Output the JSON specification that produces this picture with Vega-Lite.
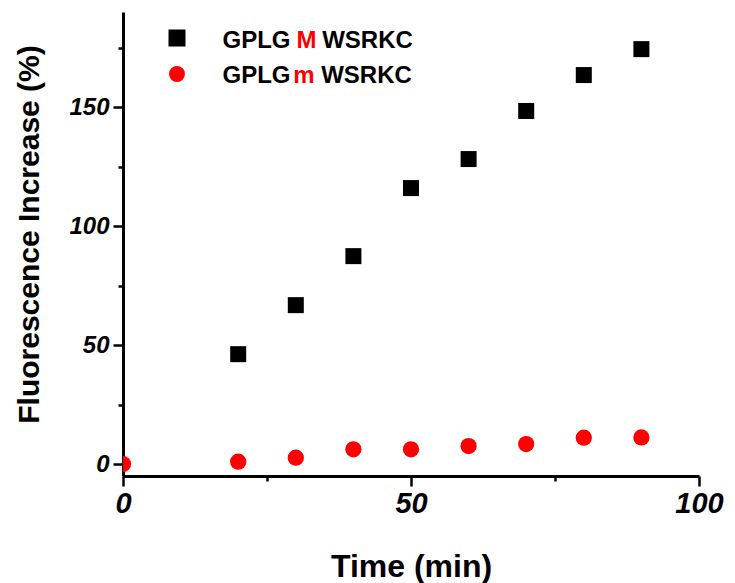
{
  "$schema": "https://vega.github.io/schema/vega-lite/v6.json",
  "width": 576,
  "height": 464,
  "autosize": {"type": "none"},
  "padding": {"left": 123, "top": 12, "right": 36, "bottom": 107},
  "config": {"view": {"stroke": null}, "font": "Liberation Sans"},
  "datasets": {
    "points": [
      {"time": 20, "value": 46.2, "peptide": "GPLGMWSRKC"},
      {"time": 30, "value": 66.8, "peptide": "GPLGMWSRKC"},
      {"time": 40, "value": 87.4, "peptide": "GPLGMWSRKC"},
      {"time": 50, "value": 116.0, "peptide": "GPLGMWSRKC"},
      {"time": 60, "value": 128.2, "peptide": "GPLGMWSRKC"},
      {"time": 70, "value": 148.4, "peptide": "GPLGMWSRKC"},
      {"time": 80, "value": 163.5, "peptide": "GPLGMWSRKC"},
      {"time": 90, "value": 174.4, "peptide": "GPLGMWSRKC"},
      {"time": 0, "value": 0.0, "peptide": "GPLGmWSRKC"},
      {"time": 20, "value": 1.0, "peptide": "GPLGmWSRKC"},
      {"time": 30, "value": 2.7, "peptide": "GPLGmWSRKC"},
      {"time": 40, "value": 6.2, "peptide": "GPLGmWSRKC"},
      {"time": 50, "value": 6.2, "peptide": "GPLGmWSRKC"},
      {"time": 60, "value": 7.6, "peptide": "GPLGmWSRKC"},
      {"time": 70, "value": 8.4, "peptide": "GPLGmWSRKC"},
      {"time": 80, "value": 11.1, "peptide": "GPLGmWSRKC"},
      {"time": 90, "value": 11.2, "peptide": "GPLGmWSRKC"}
    ]
  },
  "layer": [
    {
      "data": {"name": "points"},
      "mark": {"type": "point", "filled": true, "opacity": 1, "clip": true},
      "encoding": {
        "x": {
          "field": "time", "type": "quantitative",
          "scale": {"domain": [0, 100], "nice": false, "zero": false},
          "axis": {
            "values": [0, 25, 50, 75, 100],
            "labelExpr": "datum.value % 50 === 0 ? datum.label : ''",
            "tickSize": {"condition": {"test": "datum.value % 50 === 0", "value": 10}, "value": 5},
            "tickWidth": 2.5, "tickColor": "#000000",
            "domainColor": "#000000", "domainWidth": 3,
            "grid": false,
            "labelFont": "Liberation Sans", "labelFontSize": 29, "labelFontStyle": "italic", "labelFontWeight": "bold",
            "labelColor": "#000000", "labelPadding": 3, "labelFlush": false, "labelOverlap": false,
            "title": "Time (min)",
            "titleFont": "Liberation Sans", "titleFontSize": 32, "titleFontWeight": "bold", "titleColor": "#000000",
            "titleBaseline": "alphabetic", "titleY": 100
          }
        },
        "y": {
          "field": "value", "type": "quantitative",
          "scale": {"domain": [-5, 190], "nice": false, "zero": false},
          "axis": {
            "values": [0, 25, 50, 75, 100, 125, 150, 175],
            "labelExpr": "datum.value % 50 === 0 ? datum.label : ''",
            "tickSize": {"condition": {"test": "datum.value % 50 === 0", "value": 10}, "value": 5},
            "tickWidth": 2.5, "tickColor": "#000000",
            "domainColor": "#000000", "domainWidth": 3,
            "grid": false,
            "labelFont": "Liberation Sans", "labelFontSize": 24, "labelFontStyle": "italic", "labelFontWeight": "bold",
            "labelColor": "#000000", "labelPadding": 4, "labelFlush": false, "labelOverlap": false,
            "title": "Fluorescence Increase (%)",
            "titleFont": "Liberation Sans", "titleFontSize": 30, "titleFontWeight": "bold", "titleColor": "#000000",
            "titleBaseline": "alphabetic", "titleX": -85, "titleY": 222
          }
        },
        "shape": {
          "field": "peptide", "type": "nominal",
          "scale": {"domain": ["GPLGMWSRKC", "GPLGmWSRKC"], "range": ["square", "circle"]},
          "legend": null
        },
        "color": {
          "field": "peptide", "type": "nominal",
          "scale": {"domain": ["GPLGMWSRKC", "GPLGmWSRKC"], "range": ["#000000", "#ff0000"]},
          "legend": null
        },
        "size": {
          "field": "peptide", "type": "nominal",
          "scale": {"domain": ["GPLGMWSRKC", "GPLGmWSRKC"], "range": [256, 265]},
          "legend": null
        }
      }
    },
    {
      "data": {"values": [{"peptide": "GPLGMWSRKC"}]},
      "mark": {"type": "point", "filled": true, "opacity": 1, "shape": "square", "size": 289, "color": "#000000"},
      "encoding": {
        "x": {"datum": 9.375, "type": "quantitative"},
        "y": {"datum": 179.07, "type": "quantitative"}
      }
    },
    {
      "data": {"values": [{"peptide": "GPLGmWSRKC"}]},
      "mark": {"type": "point", "filled": true, "opacity": 1, "shape": "circle", "size": 254, "color": "#ff0000"},
      "encoding": {
        "x": {"datum": 9.375, "type": "quantitative"},
        "y": {"datum": 163.94, "type": "quantitative"}
      }
    },
    {
      "data": {"values": [{"part": "GPLG"}]},
      "mark": {"type": "text", "font": "Liberation Sans", "fontSize": 24, "fontWeight": "bold", "align": "center", "baseline": "alphabetic", "color": "#000000"},
      "encoding": {
        "x": {"datum": 23.18, "type": "quantitative"},
        "y": {"datum": 174.74, "type": "quantitative"},
        "text": {"field": "part"}
      }
    },
    {
      "data": {"values": [{"part": "M"}]},
      "mark": {"type": "text", "font": "Liberation Sans", "fontSize": 24, "fontWeight": "bold", "align": "center", "baseline": "alphabetic", "color": "#ff0000"},
      "encoding": {
        "x": {"datum": 31.86, "type": "quantitative"},
        "y": {"datum": 174.74, "type": "quantitative"},
        "text": {"field": "part"}
      }
    },
    {
      "data": {"values": [{"part": "WSRKC"}]},
      "mark": {"type": "text", "font": "Liberation Sans", "fontSize": 24, "fontWeight": "bold", "align": "center", "baseline": "alphabetic", "color": "#000000"},
      "encoding": {
        "x": {"datum": 42.45, "type": "quantitative"},
        "y": {"datum": 174.74, "type": "quantitative"},
        "text": {"field": "part"}
      }
    },
    {
      "data": {"values": [{"part": "GPLG"}]},
      "mark": {"type": "text", "font": "Liberation Sans", "fontSize": 24, "fontWeight": "bold", "align": "center", "baseline": "alphabetic", "color": "#000000"},
      "encoding": {
        "x": {"datum": 23.18, "type": "quantitative"},
        "y": {"datum": 160.03, "type": "quantitative"},
        "text": {"field": "part"}
      }
    },
    {
      "data": {"values": [{"part": "m"}]},
      "mark": {"type": "text", "font": "Liberation Sans", "fontSize": 24, "fontWeight": "bold", "align": "center", "baseline": "alphabetic", "color": "#ff0000"},
      "encoding": {
        "x": {"datum": 31.42, "type": "quantitative"},
        "y": {"datum": 160.03, "type": "quantitative"},
        "text": {"field": "part"}
      }
    },
    {
      "data": {"values": [{"part": "WSRKC"}]},
      "mark": {"type": "text", "font": "Liberation Sans", "fontSize": 24, "fontWeight": "bold", "align": "center", "baseline": "alphabetic", "color": "#000000"},
      "encoding": {
        "x": {"datum": 42.27, "type": "quantitative"},
        "y": {"datum": 160.03, "type": "quantitative"},
        "text": {"field": "part"}
      }
    }
  ]
}
